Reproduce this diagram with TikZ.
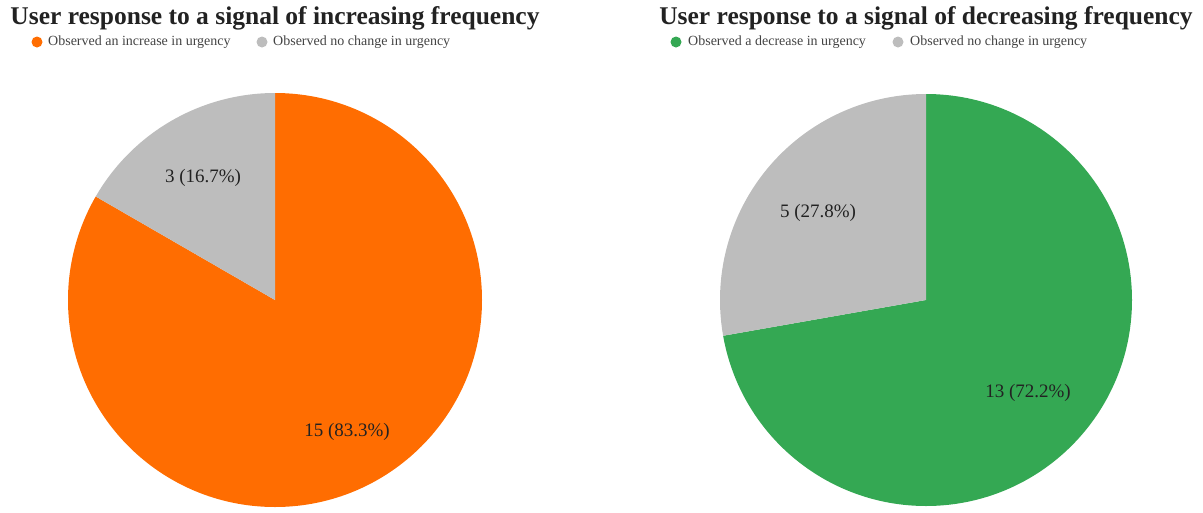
\documentclass[tikz,border=0pt]{standalone}
\usepackage{fontspec}
\setmainfont{Liberation Serif}
\definecolor{pieorange}{HTML}{FF6D01}
\definecolor{piegreen}{HTML}{34A853}
\definecolor{piegray}{HTML}{BDBDBD}
\definecolor{txtdark}{HTML}{222222}
\begin{document}
\begin{tikzpicture}[x=1pt,y=-1pt,
  charttitle/.style={font=\bfseries\fontsize{25.5}{28}\selectfont, text=txtdark, inner sep=0pt},
  legtext/.style={font=\fontsize{14}{16}\selectfont, text=txtdark!85, anchor=west, inner sep=0pt},
  legdot/.style={circle, minimum size=11pt, inner sep=0pt},
  slicelabel/.style={font=\fontsize{19}{22}\selectfont, text=txtdark, inner sep=0pt}]
\useasboundingbox (0,0) rectangle (1203,512);
% left pie (y axis points down: top of pie is angle 270)
\coordinate (lc) at (275,300);
\fill[pieorange] (lc) -- ++(270:207) arc[start angle=270, end angle=570, radius=207] -- cycle;
\fill[piegray] (lc) -- ++(210:207) arc[start angle=210, end angle=270, radius=207] -- cycle;
% right pie
\coordinate (rc) at (926,300);
\fill[piegreen] (rc) -- ++(270:206) arc[start angle=270, end angle=530, radius=206] -- cycle;
\fill[piegray] (rc) -- ++(170:206) arc[start angle=170, end angle=270, radius=206] -- cycle;
% titles
\node[charttitle] (t1) at (275,18) {User response to a signal of increasing frequency};
\node[charttitle] (t2) at (926,18) {User response to a signal of decreasing frequency};
% legends
\node[legdot, fill=pieorange] (l1d) at (37,42) {};
\node[legtext] (l1t) at (48,42) {Observed an increase in urgency};
\node[legdot, fill=piegray] (l2d) at (262,42) {};
\node[legtext] (l2t) at (273,42) {Observed no change in urgency};
\node[legdot, fill=piegreen] (r1d) at (676,42) {};
\node[legtext] (r1t) at (688,42) {Observed a decrease in urgency};
\node[legdot, fill=piegray] (r2d) at (898,42) {};
\node[legtext] (r2t) at (910,42) {Observed no change in urgency};
% slice labels
\node[slicelabel] (s1) at (203,178) {3 (16.7\%)};
\node[slicelabel] (s2) at (347,432) {15 (83.3\%)};
\node[slicelabel] (s3) at (818,213) {5 (27.8\%)};
\node[slicelabel] (s4) at (1028,393) {13 (72.2\%)};
\end{tikzpicture}
\end{document}
